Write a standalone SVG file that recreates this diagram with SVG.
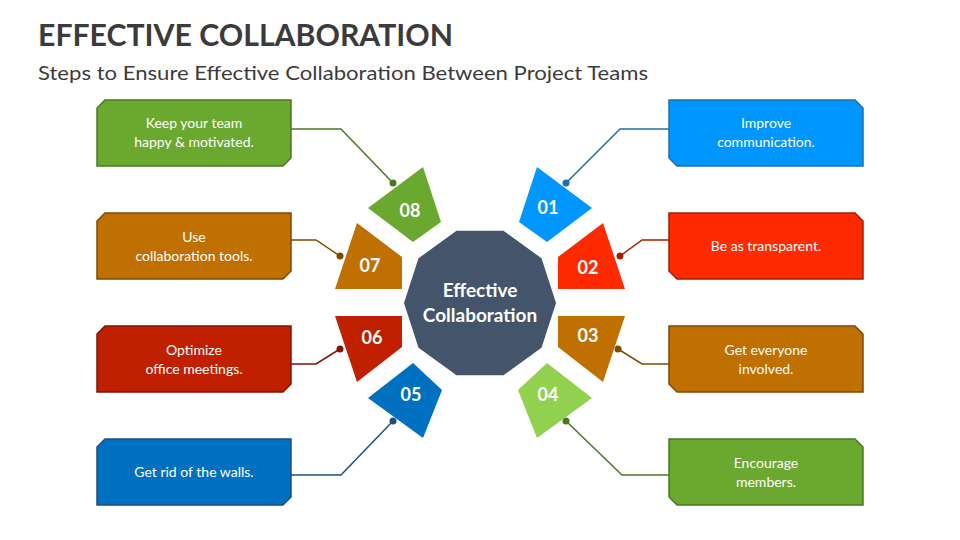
<svg xmlns="http://www.w3.org/2000/svg" width="960" height="540" viewBox="0 0 960 540">
<style>
text{font-family:Lato,"Open Sans","Liberation Sans",sans-serif}
.t{font-size:14px;fill:#fff;text-anchor:middle}
.n{font-size:18px;font-weight:bold;fill:#fff;text-anchor:middle}
.b{stroke-width:1.5}
.c{fill:none;stroke-width:1.5}
</style>
<rect width="960" height="540" fill="#fff"/>
<text x="38" y="46" font-size="31" font-weight="bold" fill="#3b3b3b" textLength="415" lengthAdjust="spacingAndGlyphs">EFFECTIVE COLLABORATION</text>
<text x="38" y="80" font-size="19" fill="#3b3b3b" textLength="610" lengthAdjust="spacingAndGlyphs">Steps to Ensure Effective Collaboration Between Project Teams</text>
<g id="connectors">
<path class="c" stroke="#1f6fa8" d="M566,183 L620,129 H669"/>
<path class="c" stroke="#a02000" d="M620,256 L642,240 H669"/>
<path class="c" stroke="#7f4a00" d="M618,349 L642,364 H669"/>
<path class="c" stroke="#4a7a20" d="M566,421 L622,475 H669"/>
<path class="c" stroke="#4a7a20" d="M393,183 L341,129 H291"/>
<path class="c" stroke="#7f4a00" d="M340,256 L316,240 H291"/>
<path class="c" stroke="#7f1500" d="M340,349 L316,364 H291"/>
<path class="c" stroke="#1f4f80" d="M393,421 L341,475 H291"/>
<g>
<circle cx="566" cy="183" r="3.5" fill="#1f6fa8"/><circle cx="620" cy="256" r="3.5" fill="#a02000"/>
<circle cx="618" cy="349" r="3.5" fill="#7f4a00"/><circle cx="566" cy="421" r="3.5" fill="#4a7a20"/>
<circle cx="393" cy="183" r="3.5" fill="#4a7a20"/><circle cx="340" cy="256" r="3.5" fill="#7f4a00"/>
<circle cx="340" cy="349" r="3.5" fill="#7f1500"/><circle cx="393" cy="421" r="3.5" fill="#1f4f80"/>
</g>
</g>
<g id="center">
<polygon fill="#44546a" points="556,303 541.5,258.3 503.5,230.7 456.5,230.7 418.5,258.3 404,303 418.5,347.7 456.5,375.3 503.5,375.3 541.5,347.7"/>
<text x="480" y="297" font-size="19" font-weight="bold" fill="#fff" text-anchor="middle">Effective</text>
<text x="480" y="322" font-size="19" font-weight="bold" fill="#fff" text-anchor="middle">Collaboration</text>
</g>
<g id="s01"><polygon fill="#0096ff" points="519,222 537,167 592,208 547,242"/><text class="n" x="548" y="214">01</text></g>
<g id="s02"><polygon fill="#ff2a00" points="558,257 603,223 625,289 558,289"/><text class="n" x="588" y="274">02</text></g>
<g id="s03"><polygon fill="#bf7000" points="558,347 558,316 625,316 603,382"/><text class="n" x="588" y="342">03</text></g>
<g id="s04"><polygon fill="#92d050" points="518,390 547,363 592,398 537,438"/><text class="n" x="548" y="401">04</text></g>
<g id="s05"><polygon fill="#0070c0" points="442,390 413,363 368,398 423,438"/><text class="n" x="411" y="401">05</text></g>
<g id="s06"><polygon fill="#c01f00" points="402,347 402,316 335,316 357,382"/><text class="n" x="372" y="344">06</text></g>
<g id="s07"><polygon fill="#bf7000" points="402,257 357,223 335,289 402,289"/><text class="n" x="370" y="272">07</text></g>
<g id="s08"><polygon fill="#6aa82f" points="441,222 423,167 368,208 413,242"/><text class="n" x="410" y="217">08</text></g>
<g id="b1"><polygon class="b" fill="#0096ff" stroke="#1f6fa8" points="669,100 855,100 863,108 863,166 677,166 669,158"/><text class="t" x="766" y="128">Improve</text><text class="t" x="766" y="147">communication.</text></g>
<g id="b2"><polygon class="b" fill="#ff2a00" stroke="#a02000" points="669,213 855,213 863,221 863,279 677,279 669,271"/><text class="t" x="766" y="251">Be as transparent.</text></g>
<g id="b3"><polygon class="b" fill="#bf7000" stroke="#7f4a00" points="669,326 855,326 863,334 863,392 677,392 669,384"/><text class="t" x="766" y="355">Get everyone</text><text class="t" x="766" y="374">involved.</text></g>
<g id="b4"><polygon class="b" fill="#6aa82f" stroke="#4a7a20" points="669,439 855,439 863,447 863,505 677,505 669,497"/><text class="t" x="766" y="468">Encourage</text><text class="t" x="766" y="487">members.</text></g>
<g id="b8"><polygon class="b" fill="#6aa82f" stroke="#4a7a20" points="105,100 291,100 291,158 283,166 97,166 97,108"/><text class="t" x="194" y="128">Keep your team</text><text class="t" x="194" y="147">happy &amp; motivated.</text></g>
<g id="b7"><polygon class="b" fill="#bf7000" stroke="#7f4a00" points="105,213 291,213 291,271 283,279 97,279 97,221"/><text class="t" x="194" y="242">Use</text><text class="t" x="194" y="261">collaboration tools.</text></g>
<g id="b6"><polygon class="b" fill="#c01f00" stroke="#7f1500" points="105,326 291,326 291,384 283,392 97,392 97,334"/><text class="t" x="194" y="355">Optimize</text><text class="t" x="194" y="374">office meetings.</text></g>
<g id="b5"><polygon class="b" fill="#0070c0" stroke="#1f4f80" points="105,439 291,439 291,497 283,505 97,505 97,447"/><text class="t" x="194" y="477">Get rid of the walls.</text></g>
</svg>
